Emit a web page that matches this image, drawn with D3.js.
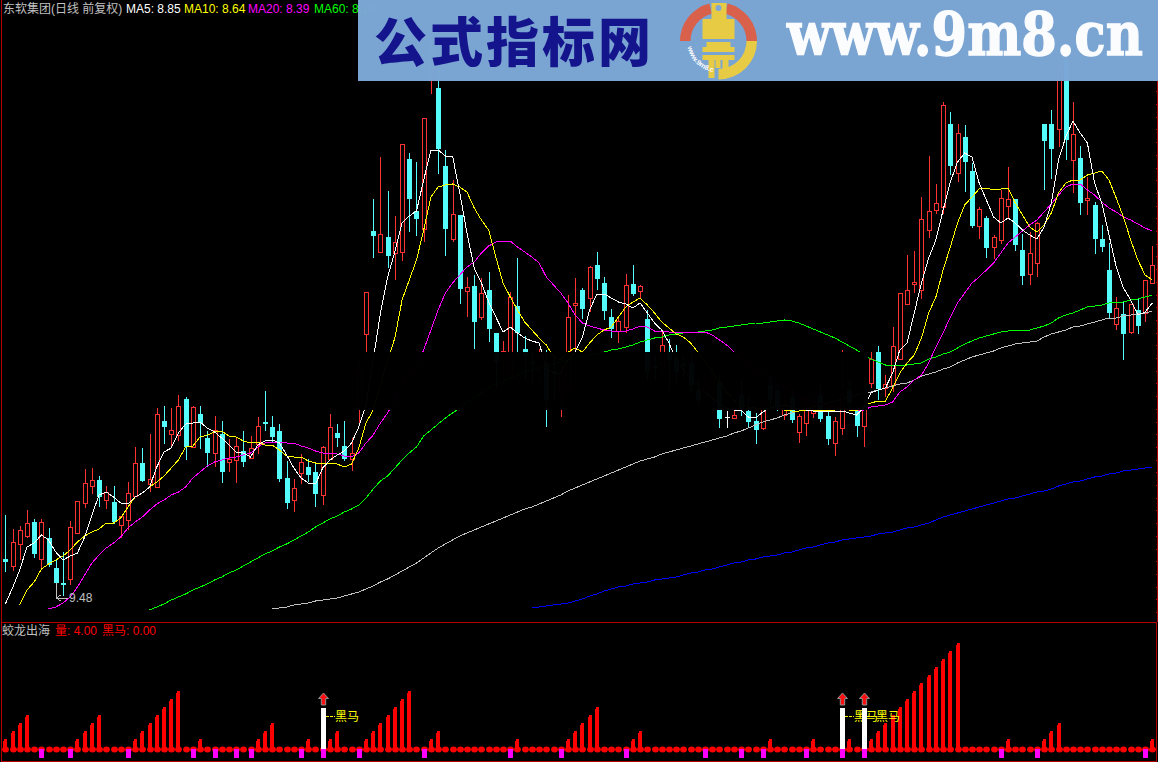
<!DOCTYPE html>
<html><head><meta charset="utf-8">
<script src="https://cdn.jsdelivr.net/npm/d3@7/dist/d3.min.js"></script>
<style>html,body{margin:0;padding:0;background:#000;overflow:hidden}svg{display:block}</style>
</head><body><div id="chart"></div>
<script>
const opens=[6.87,6.80,7.02,7.10,7.24,6.87,7.08,6.78,6.63,6.67,
7.13,7.43,7.60,7.66,7.46,7.44,7.21,7.26,7.50,7.83,
7.62,7.59,8.25,8.12,8.11,8.47,7.99,8.32,8.08,7.93,
8.12,7.84,7.86,7.95,7.88,8.02,8.24,8.19,8.15,7.68,
7.46,7.73,7.79,7.74,7.51,7.87,8.13,8.00,7.87,8.41,
9.12,10.15,9.94,10.09,9.93,9.94,10.87,10.35,10.17,11.71,
11.58,10.80,10.07,10.31,9.55,9.60,9.29,9.56,9.13,8.86,
8.71,9.40,8.97,8.84,8.76,8.83,8.75,8.51,8.56,9.41,
9.56,9.48,9.81,9.63,9.29,9.15,9.19,9.62,9.55,9.27,
8.80,8.81,8.94,8.88,8.82,8.83,8.56,8.51,8.56,8.64,
8.29,8.28,8.51,8.35,8.25,8.18,8.61,8.56,8.31,8.49,
8.14,8.23,8.33,8.51,8.30,8.03,8.18,8.56,8.36,8.20,
8.63,8.94,8.58,8.61,8.87,9.42,9.62,9.56,10.16,10.36,
10.39,11.22,10.73,11.09,10.75,10.20,10.28,9.99,10.06,10.40,
10.47,9.96,9.72,9.83,11.22,11.22,11.17,11.86,10.86,10.88,
10.46,10.41,10.07,9.76,9.22,9.32,9.14,9.36,9.33,9.63];
const closes=[6.84,7.04,7.16,7.23,6.92,7.24,6.81,6.63,6.61,7.19,
7.45,7.63,7.66,7.49,7.54,7.24,7.30,7.53,7.83,7.65,
7.67,8.32,8.19,8.16,8.40,7.99,8.39,8.23,7.93,8.16,
7.74,7.87,8.00,7.84,7.98,8.20,8.22,8.09,7.67,7.43,
7.58,7.84,7.71,7.52,7.99,8.19,8.08,7.87,7.93,8.76,
9.54,10.10,10.12,9.90,10.04,11.02,10.47,10.27,11.28,11.96,
10.97,10.17,10.32,9.57,9.59,9.24,9.53,9.17,8.84,8.95,
9.49,9.13,8.90,8.82,8.91,8.46,8.73,8.71,9.29,9.43,
9.37,9.79,9.67,9.35,9.17,9.25,9.61,9.52,9.60,8.74,
8.78,9.01,8.86,8.74,8.80,8.61,8.46,8.61,8.69,8.27,
8.29,8.31,8.37,8.24,8.16,8.46,8.46,8.36,8.41,8.26,
8.30,8.41,8.41,8.27,8.07,8.25,8.51,8.43,8.20,8.41,
8.87,8.57,8.62,9.00,9.53,9.56,9.64,10.27,10.35,10.43,
11.41,10.80,11.13,10.84,10.20,10.37,9.98,10.09,10.48,10.47,
10.01,9.70,9.93,10.23,11.05,10.97,11.76,11.06,11.12,10.43,
10.48,10.07,9.99,9.33,9.38,9.12,9.42,9.20,9.66,9.81];
const highs=[7.31,7.17,7.20,7.36,7.27,7.27,7.18,6.87,6.94,7.25,
7.45,7.77,7.78,7.70,7.60,7.60,7.30,7.64,7.99,7.98,
8.12,8.38,8.40,8.38,8.51,8.49,8.40,8.40,8.15,8.30,
8.25,8.07,8.09,8.15,8.10,8.29,8.55,8.30,8.22,7.85,
7.67,7.92,7.87,7.83,8.00,8.32,8.22,8.25,8.08,8.86,
9.54,10.47,10.89,10.55,10.30,11.02,10.93,10.84,11.28,12.06,
11.76,10.96,10.66,10.31,9.69,9.71,9.68,9.74,9.13,9.05,
9.54,9.88,9.10,8.93,8.97,8.96,8.91,8.81,9.51,9.68,
9.58,9.80,9.94,9.69,9.37,9.30,9.72,9.81,9.61,9.36,
8.91,9.16,9.07,9.01,8.91,8.94,8.66,8.71,8.81,8.71,
8.35,8.36,8.66,8.51,8.33,8.51,8.71,8.61,8.51,8.56,
8.32,8.51,8.51,8.61,8.35,8.29,8.96,8.66,8.41,8.41,
8.94,9.00,8.71,9.19,9.53,9.91,9.95,10.49,10.90,10.62,
11.44,11.34,11.22,11.21,10.83,10.39,10.30,10.11,10.56,10.79,
10.47,10.12,10.14,10.24,11.22,11.36,11.86,11.96,11.44,11.00,
10.69,10.44,10.21,10.03,9.49,9.44,9.42,9.48,9.66,10.00];
const lows=[6.74,6.75,6.86,7.08,6.88,6.76,6.79,6.48,6.50,6.61,
7.13,7.38,7.52,7.39,7.37,7.22,7.08,7.16,7.50,7.64,
7.54,7.59,8.02,8.00,8.05,7.86,7.99,7.97,7.79,7.79,
7.63,7.74,7.63,7.79,7.87,7.92,8.15,8.03,7.64,7.37,
7.34,7.62,7.64,7.39,7.41,7.87,7.99,7.85,7.75,8.22,
8.86,9.88,9.94,9.78,9.66,9.85,10.14,10.10,10.04,11.52,
10.72,9.90,10.04,9.42,9.29,8.97,9.26,9.04,8.58,8.61,
8.66,8.90,8.66,8.61,8.61,8.19,8.46,8.29,8.51,8.94,
9.27,9.34,9.56,9.26,9.08,9.03,9.13,9.50,9.48,8.66,
8.66,8.66,8.56,8.61,8.68,8.54,8.41,8.44,8.46,8.18,
8.18,8.28,8.30,8.18,8.02,8.16,8.41,8.35,8.26,8.23,
8.03,8.10,8.28,8.24,8.01,7.90,8.11,8.38,8.09,7.99,
8.58,8.46,8.49,8.54,8.87,9.41,9.53,9.47,10.08,10.32,
10.32,10.71,10.64,10.54,10.18,10.07,9.88,9.87,10.02,10.28,
9.95,9.61,9.61,9.69,10.56,10.67,10.99,10.86,10.53,10.31,
10.31,9.92,9.94,9.28,9.16,8.86,9.12,9.12,9.24,9.63];
const ma5=[6.42,6.58,6.76,6.99,7.03,7.11,7.06,6.94,6.86,6.90,
6.93,7.09,7.31,7.51,7.54,7.49,7.43,7.42,7.49,7.53,
7.59,7.79,7.94,7.98,8.13,8.22,8.23,8.24,8.18,8.14,
8.08,8.01,7.94,7.93,7.89,8.01,8.05,8.06,8.03,7.91,
7.78,7.68,7.63,7.62,7.78,7.86,7.91,7.95,8.03,8.19,
8.41,8.86,9.33,9.69,9.94,10.23,10.30,10.35,10.66,10.96,
10.96,10.90,10.90,10.53,10.13,9.78,9.63,9.44,9.29,9.14,
9.19,9.13,9.08,9.05,9.03,8.78,8.73,8.73,8.86,8.94,
9.09,9.36,9.52,9.52,9.48,9.44,9.42,9.38,9.43,9.33,
9.23,9.16,9.03,8.86,8.76,8.68,8.61,8.54,8.48,8.42,
8.38,8.36,8.36,8.29,8.28,8.34,8.38,8.40,8.41,8.39,
8.37,8.36,8.35,8.35,8.35,8.35,8.35,8.33,8.31,8.38,
8.53,8.56,8.58,8.73,8.96,9.03,9.33,9.63,9.88,10.06,
10.36,10.64,10.84,10.93,10.89,10.63,10.46,10.29,10.23,10.28,
10.23,10.16,10.11,10.07,10.19,10.43,10.86,11.09,11.25,11.13,
11.03,10.63,10.43,10.11,9.79,9.58,9.46,9.31,9.34,9.43];
const ma10=[null,null,6.41,6.56,6.64,6.77,6.82,6.86,6.90,6.96,
7.04,7.10,7.14,7.17,7.23,7.23,7.28,7.39,7.49,7.53,
7.59,7.64,7.70,7.78,7.86,7.99,8.00,8.09,8.11,8.14,
8.15,8.10,8.09,8.05,8.03,8.04,8.01,8.01,7.96,7.90,
7.89,7.89,7.85,7.83,7.83,7.83,7.82,7.79,7.82,7.98,
8.23,8.36,8.61,8.86,9.08,9.46,9.66,9.86,10.16,10.49,
10.59,10.61,10.62,10.59,10.54,10.38,10.26,10.16,9.89,9.63,
9.49,9.36,9.24,9.16,9.08,9.01,8.89,8.86,8.94,8.98,
8.94,9.03,9.11,9.16,9.19,9.29,9.39,9.44,9.48,9.41,
9.33,9.24,9.18,9.12,9.09,9.03,8.94,8.84,8.74,8.64,
8.54,8.46,8.41,8.39,8.38,8.38,8.37,8.37,8.36,8.35,
8.35,8.36,8.36,8.36,8.36,8.36,8.37,8.36,8.35,8.41,
8.43,8.45,8.45,8.58,8.73,8.83,8.91,9.08,9.33,9.49,
9.76,9.99,10.23,10.41,10.49,10.57,10.58,10.56,10.57,10.58,
10.43,10.31,10.19,10.14,10.21,10.33,10.53,10.63,10.66,10.66,
10.71,10.73,10.75,10.66,10.48,10.29,10.06,9.86,9.71,9.66];
const ma20=[null,null,null,null,null,null,6.37,6.39,6.43,6.49,
6.59,6.71,6.83,6.91,6.98,7.03,7.09,7.18,7.24,7.29,
7.36,7.42,7.46,7.51,7.54,7.59,7.68,7.74,7.80,7.84,
7.86,7.88,7.89,7.91,7.93,7.99,8.03,8.04,8.04,8.03,
8.03,8.00,7.98,7.95,7.93,7.93,7.92,7.90,7.89,7.93,
8.03,8.11,8.23,8.33,8.46,8.61,8.76,8.81,8.96,9.16,
9.36,9.53,9.63,9.71,9.79,9.84,9.93,10.00,10.04,10.05,
10.05,9.99,9.94,9.89,9.83,9.69,9.61,9.53,9.43,9.31,
9.23,9.20,9.18,9.16,9.15,9.15,9.15,9.17,9.20,9.19,
9.15,9.15,9.14,9.14,9.14,9.14,9.14,9.14,9.11,9.06,
9.01,8.94,8.88,8.82,8.77,8.72,8.67,8.62,8.58,8.54,
8.50,8.47,8.44,8.42,8.40,8.39,8.38,8.37,8.36,8.36,
8.39,8.40,8.41,8.44,8.54,8.59,8.66,8.71,8.83,8.99,
9.13,9.29,9.43,9.53,9.63,9.69,9.76,9.83,9.93,10.03,
10.09,10.15,10.21,10.26,10.34,10.42,10.51,10.59,10.62,10.62,
10.56,10.51,10.44,10.38,10.34,10.29,10.26,10.22,10.18,10.15];
const ma60=[...Array(20).fill(null),6.36,6.39,6.42,6.46,6.49,6.52,6.56,6.59,6.62,6.66,
6.69,6.73,6.76,6.80,6.84,6.88,6.92,6.95,6.99,7.02,
7.06,7.10,7.14,7.19,7.23,7.27,7.30,7.34,7.37,7.41,
7.48,7.57,7.65,7.70,7.78,7.86,7.93,7.99,8.10,8.16,
8.22,8.28,8.33,8.38,8.44,8.48,8.53,8.58,8.62,8.65,
8.68,8.71,8.74,8.76,8.78,8.80,8.82,8.84,8.86,8.88,
8.89,8.91,8.92,8.94,8.96,8.97,8.99,9.01,9.04,9.06,
9.08,9.09,9.11,9.12,9.13,9.14,9.14,9.15,9.16,9.18,
9.19,9.20,9.21,9.22,9.23,9.23,9.24,9.25,9.26,9.25,
9.23,9.20,9.17,9.14,9.11,9.08,9.04,9.00,8.96,8.91,
8.87,8.84,8.81,8.81,8.81,8.81,8.82,8.83,8.87,8.89,
8.92,8.94,8.98,9.02,9.05,9.08,9.10,9.12,9.14,9.15,
9.16,9.16,9.16,9.18,9.20,9.23,9.28,9.31,9.33,9.36,
9.39,9.40,9.41,9.43,9.44,9.44,9.46,9.47,9.49,9.51];
const ma120=[...Array(37).fill(null),6.37,6.38,6.39,
6.41,6.42,6.43,6.45,6.46,6.47,6.48,6.50,6.52,6.54,
6.57,6.60,6.64,6.67,6.71,6.75,6.79,6.83,6.88,6.93,
6.98,7.02,7.06,7.10,7.13,7.16,7.19,7.22,7.25,7.28,
7.31,7.34,7.37,7.39,7.42,7.45,7.48,7.51,7.55,7.58,
7.61,7.64,7.67,7.70,7.73,7.76,7.79,7.82,7.85,7.87,
7.89,7.92,7.94,7.96,7.98,8.00,8.02,8.04,8.06,8.08,
8.10,8.13,8.15,8.18,8.21,8.24,8.26,8.28,8.31,8.33,
8.35,8.37,8.39,8.41,8.43,8.45,8.47,8.49,8.51,8.53,
8.54,8.56,8.58,8.60,8.62,8.63,8.66,8.70,8.72,8.74,
8.77,8.79,8.83,8.86,8.89,8.91,8.93,8.95,8.98,9.00,
9.02,9.03,9.04,9.05,9.09,9.12,9.14,9.16,9.19,9.20,
9.22,9.24,9.26,9.28,9.28,9.30,9.31,9.32,9.33,9.35];
const ma250=[...Array(73).fill(null),6.38,6.39,6.40,6.41,6.42,6.43,6.45,
6.47,6.50,6.52,6.55,6.57,6.59,6.60,6.62,6.63,6.64,
6.66,6.67,6.68,6.69,6.71,6.73,6.74,6.76,6.77,6.79,
6.81,6.83,6.84,6.86,6.87,6.89,6.90,6.91,6.93,6.94,
6.96,6.98,6.99,7.01,7.03,7.04,7.06,7.07,7.08,7.09,
7.10,7.12,7.13,7.14,7.16,7.18,7.19,7.21,7.23,7.26,
7.29,7.31,7.33,7.35,7.37,7.39,7.41,7.43,7.45,7.47,
7.48,7.50,7.52,7.54,7.55,7.57,7.60,7.62,7.64,7.65,
7.67,7.69,7.70,7.72,7.73,7.75,7.76,7.77,7.78,7.79];
const liang=[1,2,3,4,0,0,0,0,0,0,
1,2,3,4,0,0,0,0,1,2,
3,4,5,6,7,0,0,1,0,0,
0,0,0,0,0,1,2,3,0,0,
0,0,1,0,1,1,2,0,0,0,
1,2,3,4,5,6,7,0,0,1,
2,0,0,0,0,0,0,0,0,0,
0,1,0,0,0,0,0,0,1,2,
3,4,5,0,0,0,0,1,2,0,
0,0,0,0,0,0,0,0,0,0,
0,0,0,0,0,0,1,0,0,0,
0,0,1,0,0,0,1,1,0,1,
1,2,3,4,5,6,7,8,9,10,
11,12,13,0,0,0,0,0,0,1,
0,0,0,0,1,2,3,0,0,0,
0,0,0,0,0,0,0,0,0,1];
const magentaMarks=[5,9,17,26,29,32,34,41,44,49,58,70,77,86,97,102,105,111,116,119,138,143,158];
const heimaMarks=[44,116,119];
const maLines=[{k:ma250,c:"#0000ff"},{k:ma120,c:"#c0c0c0"},{k:ma60,c:"#00ff00"},{k:ma20,c:"#ff00ff"},{k:ma10,c:"#ffff00"},{k:ma5,c:"#ffffff"}];
const headerItems=[["东软集团(日线 前复权)",3,"#c0c0c0"],["MA5: 8.85",126,"#ffffff"],["MA10: 8.64",184,"#ffff00"],["MA20: 8.39",248,"#ff00ff"],["MA60: 8.10",314,"#00ff00"]];
const subHeaderItems=[["蛟龙出海",2,"#c0c0c0"],["量: 4.00",55,"#ff0000"],["黑马: 0.00",102,"#ff0000"]];

const W=1158,H=762,UP="#ff3232",DN="#54fcfc",FR="#b00000";
const svg=d3.select("#chart").append("svg").attr("width",W).attr("height",H);
svg.append("rect").attr("width",W).attr("height",H).attr("fill","#000");
const x=d3.scaleLinear().domain([0,159]).range([5.3,1152.3]);
const y=d3.scaleLinear().domain([6.24,12.46]).range([622,0]);
const yv=d3.scaleLinear().domain([0,13]).range([747,643]);
const px=i=>Math.round(x(i));
const idx=d3.range(opens.length);
const font="'Liberation Sans','Noto Sans CJK SC',sans-serif";

// candles
const cg=svg.append("g").attr("shape-rendering","crispEdges");
idx.forEach(i=>{
  const up=closes[i]>opens[i],doji=closes[i]===opens[i];
  const col=doji?"#ffffff":up?UP:DN,c=px(i);
  const top=Math.round(y(Math.max(opens[i],closes[i]))),bot=Math.round(y(Math.min(opens[i],closes[i])));
  cg.append("line").attr("x1",c+.5).attr("x2",c+.5).attr("y1",Math.round(y(highs[i]))).attr("y2",Math.round(y(lows[i]))).attr("stroke",col);
  if(doji) cg.append("line").attr("x1",c-2).attr("x2",c+3).attr("y1",top+.5).attr("y2",top+.5).attr("stroke",col);
  else if(up) cg.append("rect").attr("x",c-1.5).attr("y",top+.5).attr("width",4).attr("height",Math.max(1,bot-top)).attr("fill","#000").attr("stroke",col);
  else cg.append("rect").attr("x",c-2).attr("y",top).attr("width",5).attr("height",Math.max(2,bot-top)).attr("fill",col);
});

// moving averages
const line=d3.line().defined(d=>d!==null).x((d,i)=>x(i)).y(d=>y(d));
svg.append("g").selectAll("path").data(maLines).join("path")
  .attr("d",d=>line(d.k)).attr("fill","none").attr("stroke",d=>d.c).attr("stroke-width",1).attr("shape-rendering","crispEdges");

// lowest-price marker
const lx=px(7);
svg.append("path").attr("d",`M${lx+.5} 583V598H${lx+12}M${lx+.5} 598l4 -3M${lx+.5} 598l4 3`).attr("fill","none").attr("stroke","#c0c0c0").attr("shape-rendering","crispEdges");
svg.append("text").attr("x",lx+13).attr("y",602).text("9.48").attr("fill","#c0c0c0").attr("font-family",font).attr("font-size",12);

// dark watermark band
svg.append("rect").attr("x",356).attr("y",352).attr("width",512).attr("height",58).attr("fill","#000").attr("fill-opacity",.975);

// header texts
svg.append("g").selectAll("text").data(headerItems).join("text")
  .attr("x",d=>d[1]).attr("y",13).attr("fill",d=>d[2]).attr("font-family",font).attr("font-size",12).text(d=>d[0]);

// frame
const fr=svg.append("g").attr("stroke",FR).attr("fill","none").attr("shape-rendering","crispEdges");
fr.append("path").attr("d","M1.5 0V761.5H1156.5V622.5H1.5M1157.5 0V622");
const axisG=svg.append("g").attr("transform","translate(1157.5,0)").call(
  d3.axisLeft(y).tickValues(d3.range(6.34,12.46,.127)).tickSize(2).tickFormat(""));
axisG.select(".domain").remove();
axisG.selectAll("line").attr("stroke",FR).attr("shape-rendering","crispEdges");

// lower panel
svg.append("g").selectAll("text").data(subHeaderItems).join("text")
  .attr("x",d=>d[1]).attr("y",635).attr("fill",d=>d[2]).attr("font-family",font).attr("font-size",12).text(d=>d[0]);
const lg=svg.append("g").attr("shape-rendering","crispEdges");
idx.forEach(i=>{
  const c=px(i),v=liang[i];
  if(v>0){
    const t=Math.round(yv(v));
    lg.append("rect").attr("x",c-2).attr("y",t+2).attr("width",1).attr("height",749-t-2).attr("fill","#ff0000");
    lg.append("rect").attr("x",c-1).attr("y",t).attr("width",3).attr("height",749-t).attr("fill","#ff0000");
  }
});
svg.append("g").selectAll("ellipse").data(idx).join("ellipse")
  .attr("cx",i=>px(i)+.5).attr("cy",749.5).attr("rx",3.4).attr("ry",3).attr("fill","#ff0000");
svg.append("g").attr("shape-rendering","crispEdges").selectAll("rect").data(magentaMarks).join("rect")
  .attr("x",i=>px(i)-2).attr("y",749).attr("width",5).attr("height",9).attr("fill","#ff00ff");
heimaMarks.forEach(i=>{
  const c=px(i);
  svg.append("rect").attr("x",c-2).attr("y",708).attr("width",5).attr("height",41).attr("fill","#ffffff").attr("shape-rendering","crispEdges");
  svg.append("path").attr("transform",`translate(${c+.5},693)`).attr("d","M0 0L5 5.5H2.2V12H-2.2V5.5H-5Z").attr("fill","#ff1010").attr("stroke","#909090").attr("stroke-width",1);
  svg.append("line").attr("x1",c+3).attr("x2",c+12).attr("y1",716.5).attr("y2",716.5).attr("stroke","#ffff00").attr("stroke-dasharray","3,1").attr("shape-rendering","crispEdges");
  svg.append("text").attr("x",c+12).attr("y",721).text("黑马").attr("fill","#ffff00").attr("font-family","'Noto Sans CJK SC',sans-serif").attr("font-size",12);
});

// banner
const b=svg.append("g");
b.append("rect").attr("x",358).attr("y",0).attr("width",800).attr("height",81).attr("fill","#7ca7d6").attr("fill-opacity",.98);
b.append("text").attr("x",374).attr("y",62).text("公式指标网").attr("fill","#14148c").attr("font-family","'Noto Sans CJK SC'").attr("font-weight",900).attr("font-size",53).attr("letter-spacing",3);
const arc=d3.arc();
const lg2=b.append("g").attr("transform","translate(718.5,41)");
const ring=[[-Math.PI/2,-0.24,"#d9604a"],[0.24,Math.PI/2,"#d9604a"],[Math.PI/2,Math.PI,"#e8cb45"]];
lg2.selectAll("path").data(ring).join("path").attr("d",d=>arc({innerRadius:28,outerRadius:38.5,startAngle:d[0],endAngle:d[1]})).attr("fill",d=>d[2]);
const blocks=[[-7,-38,15,16],[-16,-22,32,20],[-12,1,24,5],[-16,6,32,5],[-16,14,32,5],[-10,19,6,18],[4,19,6,18],[-3,19,5,8]];
lg2.selectAll("rect").data(blocks).join("rect").attr("x",d=>d[0]).attr("y",d=>d[1]).attr("width",d=>d[2]).attr("height",d=>d[3]).attr("fill","#e8cb45");
lg2.append("circle").attr("cy",-33).attr("r",3).attr("fill","#7ca7d6");
lg2.append("path").attr("id","lgArc").attr("d","M-31 6A32 32 0 0 0 -6 31").attr("fill","none");
lg2.append("text").attr("font-size",7).attr("font-weight",700).attr("fill","#fff").attr("font-family",font).append("textPath").attr("href","#lgArc").text("www.9m8.cn");
const site=b.append("text").attr("x",0).attr("y",0).text("www.9m8.cn").attr("fill","#fbfcfe").attr("stroke","#fbfcfe").attr("stroke-width",1.4).attr("font-family","'DejaVu Serif'").attr("font-weight",700).attr("font-size",60);
const siteLen=site.node().getComputedTextLength();
site.attr("transform",`translate(787,55) scale(${356/siteLen},1)`);
</script></body></html>
